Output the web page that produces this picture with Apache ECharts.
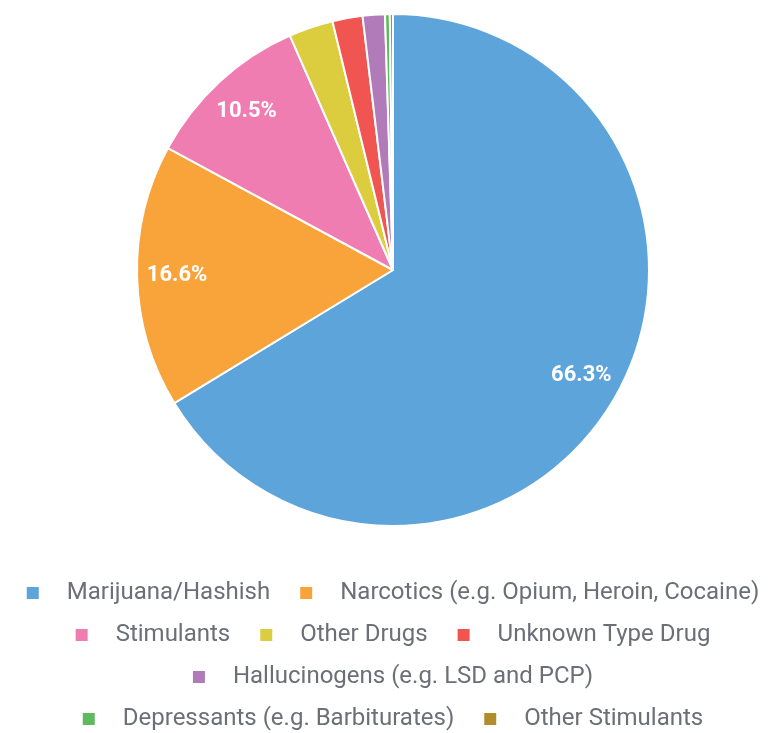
<!DOCTYPE html>
<html>
<head>
<meta charset="utf-8">
<script src="https://cdn.jsdelivr.net/npm/echarts@6/dist/echarts.min.js"></script>
<style>html,body{margin:0;padding:0;background:#fff;}#c{width:784px;height:733px;}</style>
</head>
<body>
<div id="c"></div>
<script>
const categories = ["Marijuana/Hashish","Narcotics (e.g. Opium, Heroin, Cocaine)","Stimulants","Other Drugs","Unknown Type Drug","Hallucinogens (e.g. LSD and PCP)","Depressants (e.g. Barbiturates)","Other Stimulants"];
const values = [66.3, 16.6, 10.5, 2.8, 1.9, 1.4, 0.3, 0.2];
const colors = ["#5ca4da","#f9a33b","#f07db1","#dccd3e","#f05552","#b07bb8","#5dba5e","#b08d2a"];
const legendRows = [[0,1],[2,3,4],[5],[6,7]];
const legendRowTops = [581, 623, 665, 707];

const data = categories.map((n,i)=>({name:n,value:values[i],itemStyle:{color:colors[i]}}));
const chart = echarts.init(document.getElementById('c'));
chart.setOption({
  animation:false,
  legend: legendRows.map((row,k)=>({
    data: row.map(i=>categories[i]),
    left:'center', top:legendRowTops[k], orient:'horizontal',
    padding:0,
    itemWidth:14, itemHeight:14, itemGap:28,
    icon:'rect',
    textStyle:{fontFamily:'Roboto', fontSize:24, color:'#6b6f76', padding:[0,0,0,22]}
  })),
  series:[{
    type:'pie', center:[393,270], radius:[0,256], startAngle:90,
    data:data,
    itemStyle:{borderColor:'#fff', borderWidth:2},
    label:{show:false}, labelLine:{show:false}, emphasis:{disabled:true}
  },{
    type:'pie', center:[393,270], radius:[170,256], startAngle:90, silent:true,
    data:data.map(d=>({name:d.name,value:d.value,itemStyle:{color:'rgba(0,0,0,0)'}})),
    legendHoverLink:false,
    label:{show:true, position:'inside', color:'#fff', fontFamily:'Roboto', fontSize:22, fontWeight:'bold',
      formatter:p=> p.value>=5 ? p.value.toFixed(1)+'%' : ''},
    labelLine:{show:false}, emphasis:{disabled:true}
  }]
});
</script>
</body>
</html>
